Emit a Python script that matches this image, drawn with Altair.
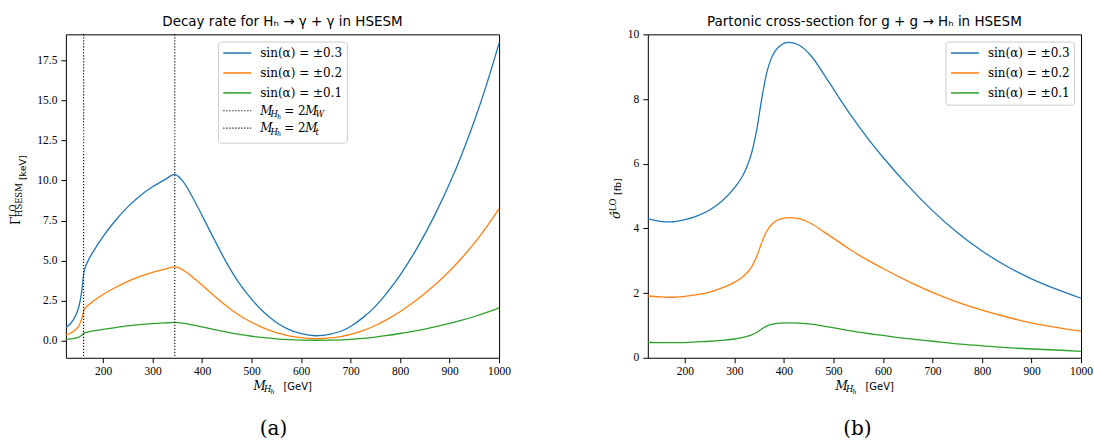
import altair as alt
import pandas as pd

SERIF = "DejaVu Serif"
TICKF = "Liberation Serif"
SANS = "DejaVu Sans"
COLORS = ["#1f77b4", "#ff7f0e", "#2ca02c"]
LABELS = ["sin(α) = ±0.3", "sin(α) = ±0.2", "sin(α) = ±0.1"]

# ---------------- panel (a): decay rate, keV ----------------
m_a = [125, 135, 145, 150, 155, 158, 161, 165, 170, 180, 200, 225, 250, 275, 300, 325, 345, 352, 360, 370,
       380, 390, 400, 425, 450, 475, 500, 525, 550, 575, 600, 630, 660, 680, 700, 725, 750, 775, 800, 825,
       850, 875, 900, 925, 950, 975, 1000]
gam_03 = [0.83, 1.1, 1.6, 2.0, 2.7, 3.3, 4.2, 4.65, 5.0, 5.55, 6.5, 7.5, 8.35, 9.05, 9.6, 10.05, 10.37, 10.25, 10.0, 9.55,
          9.0, 8.42, 7.82, 6.3, 4.85, 3.6, 2.6, 1.78, 1.15, 0.72, 0.45, 0.32, 0.42, 0.6, 0.9, 1.45, 2.15, 3.05, 4.1, 5.3,
          6.65, 8.15, 9.8, 11.65, 13.7, 16.0, 18.55]
gam_02 = [0.37, 0.49, 0.71, 0.89, 1.2, 1.47, 1.87, 2.07, 2.22, 2.47, 2.89, 3.33, 3.71, 4.02, 4.27, 4.47, 4.61, 4.56, 4.44, 4.24,
          4.0, 3.74, 3.48, 2.8, 2.16, 1.6, 1.16, 0.79, 0.51, 0.32, 0.2, 0.14, 0.19, 0.27, 0.4, 0.64, 0.96, 1.36, 1.82, 2.36,
          2.96, 3.62, 4.36, 5.18, 6.09, 7.11, 8.24]
gam_01 = [0.09, 0.12, 0.18, 0.22, 0.3, 0.37, 0.47, 0.52, 0.56, 0.62, 0.72, 0.83, 0.93, 1.01, 1.07, 1.12, 1.15, 1.14, 1.11, 1.06,
          1.0, 0.94, 0.87, 0.7, 0.54, 0.4, 0.29, 0.2, 0.13, 0.08, 0.05, 0.04, 0.05, 0.07, 0.1, 0.16, 0.24, 0.34, 0.46, 0.59,
          0.74, 0.91, 1.09, 1.29, 1.52, 1.78, 2.06]
thresholds = [160.8, 345.0]
threshold_labels = ["2MW", "2Mt"]

# ---------------- panel (b): cross-section, fb ----------------
m_b = [125, 150, 170, 200, 225, 250, 275, 300, 315, 325, 335, 345, 355, 365, 375, 390, 410, 430, 455, 480,
       510, 535, 570, 600, 650, 700, 750, 800, 850, 900, 950, 1000]
sig_03 = [4.30, 4.22, 4.20, 4.27, 4.39, 4.57, 4.85, 5.25, 5.58, 5.9, 6.35, 7.05, 8.0, 8.8, 9.28, 9.62, 9.75, 9.67, 9.33, 8.78,
          8.07, 7.5, 6.77, 6.2, 5.33, 4.55, 3.87, 3.3, 2.83, 2.44, 2.12, 1.84]
sig_02 = [1.91, 1.88, 1.87, 1.9, 1.95, 2.03, 2.16, 2.33, 2.48, 2.62, 2.82, 3.13, 3.56, 3.91, 4.12, 4.28, 4.33, 4.3, 4.15, 3.9,
          3.59, 3.33, 3.01, 2.76, 2.37, 2.02, 1.72, 1.47, 1.26, 1.08, 0.94, 0.82]
sig_01 = [0.48, 0.47, 0.47, 0.47, 0.49, 0.51, 0.54, 0.58, 0.62, 0.66, 0.71, 0.78, 0.89, 0.98, 1.03, 1.07, 1.08, 1.07, 1.04, 0.98,
          0.9, 0.83, 0.75, 0.69, 0.59, 0.51, 0.43, 0.37, 0.31, 0.27, 0.24, 0.2]

x_ticks = [200, 300, 400, 500, 600, 700, 800, 900, 1000]
ya_ticks = [0, 2.5, 5, 7.5, 10, 12.5, 15, 17.5]
yb_ticks = [0, 2, 4, 6, 8, 10]

W, H = 434, 324
ONE = [{"k": 1}]


def txt(s, x, y, size=12, font=SERIF, style="normal", angle=0, align="left", baseline="alphabetic"):
    return alt.Chart(alt.Data(values=ONE)).mark_text(
        text=s, font=font, fontSize=size, fontStyle=style, angle=angle,
        align=align, baseline=baseline, color="black"
    ).encode(x=alt.value(x), y=alt.value(y))


def hrule(x1, x2, y, color, dash=None, width=1.5):
    kw = dict(color=color, strokeWidth=width)
    if dash:
        kw["strokeDash"] = dash
    return alt.Chart(alt.Data(values=ONE)).mark_rule(**kw).encode(
        x=alt.value(x1), x2=alt.value(x2), y=alt.value(y))


def box(x1, x2, y1, y2):
    return alt.Chart(alt.Data(values=ONE)).mark_rect(
        fill="white", fillOpacity=0.85, stroke="#cccccc", strokeWidth=1, cornerRadius=3
    ).encode(x=alt.value(x1), x2=alt.value(x2), y=alt.value(y1), y2=alt.value(y2))


def axis_common(values, fmt, pad):
    return alt.Axis(values=values, format=fmt, title=None, grid=False, domain=False,
                    tickColor="black", tickSize=5, tickWidth=1,
                    labelFont=TICKF, labelFontSize=11.5, labelColor="black",
                    labelPadding=pad, labelFlush=False, labelOverlap=False)


def curves(m, series, ydom, yticks, yfmt):
    rows = []
    for lab, vals in zip(LABELS, series):
        for mm, v in zip(m, vals):
            rows.append({"m": mm, "v": v, "s": lab})
    df = pd.DataFrame(rows)
    return alt.Chart(df).mark_line(strokeWidth=1.3, interpolate="monotone").encode(
        x=alt.X("m:Q", scale=alt.Scale(domain=[125, 1000], nice=False, zero=False),
                axis=axis_common(x_ticks, "d", 3)),
        y=alt.Y("v:Q", scale=alt.Scale(domain=ydom, nice=False, zero=False),
                axis=axis_common(yticks, yfmt, 4)),
        color=alt.Color("s:N", scale=alt.Scale(domain=LABELS, range=COLORS), legend=None),
    )


def mass_label(y):
    return [
        txt("M", 188, y, 12, SERIF, "italic"),
        txt("H", 198.5, y + 2.5, 8.5, SERIF, "italic"),
        txt("h", 205, y + 4, 6.5, SERIF, "italic"),
        txt("[GeV]", 218, y, 10, SANS),
    ]


def legend_items(xl, ys):
    parts = []
    for i in range(3):
        parts.append(hrule(xl, xl + 28, ys[i], COLORS[i]))
        parts.append(txt(LABELS[i], xl + 37, ys[i] + 4, 12, SERIF))
    return parts


def m_equals(x0, yb, sub_last):
    return [
        txt("M", x0, yb, 12, SERIF, "italic"),
        txt("H", x0 + 10.3, yb + 2.5, 8.5, SERIF, "italic"),
        txt("h", x0 + 16.8, yb + 4, 6.5, SERIF, "italic"),
        txt("= 2", x0 + 24, yb, 12, SERIF),
        txt("M", x0 + 45, yb, 12, SERIF, "italic"),
        txt(sub_last, x0 + 55.5, yb + 2.5, 8.5, SERIF, "italic"),
    ]


# canvas-sized transparent frame so the page is exactly 1094 x 441
canvas = alt.Chart(alt.Data(values=ONE)).mark_rect(fill="white", opacity=0).encode(
    x=alt.value(-65), x2=alt.value(1029), y=alt.value(-33), y2=alt.value(408))

thr_df = pd.DataFrame({"m": thresholds, "lab": threshold_labels})
thr = alt.Chart(thr_df).mark_rule(color="black", strokeWidth=1.1, strokeDash=[1.2, 1.8]).encode(x="m:Q")

leg_a_y = [18.7, 38.7, 58.7, 76.5, 94]
left_layers = [canvas,
               curves(m_a, [gam_03, gam_02, gam_01], [-1.05, 19.1], ya_ticks, ".1f"),
               thr,
               box(153, 282, 7.7, 109)]
left_layers += legend_items(157.7, leg_a_y)
left_layers += [hrule(157.7, 185.7, leg_a_y[3], "black", [1.2, 1.8], 1.1),
                hrule(157.7, 185.7, leg_a_y[4], "black", [1.2, 1.8], 1.1)]
left_layers += m_equals(194.7, leg_a_y[3] + 4, "W")
left_layers += m_equals(194.7, leg_a_y[4] + 4, "t")
left_layers += [
    txt("Decay rate for Hₕ → γ + γ in HSESM", 217, -8, 13.5, SANS, align="center"),
    txt("Γ", -46, 191, 12.5, SERIF, angle=270),
    txt("LO", -50, 183, 8.5, SERIF, angle=270),
    txt("HSESM", -43.5, 183, 8.5, SERIF, angle=270),
    txt("[keV]", -40, 146, 9.5, SANS, angle=270),
    txt("(a)", 208, 401, 20, SERIF, align="center"),
]
left_layers += mass_label(356)

leg_b_y = [18.7, 38.7, 58.7]
right_layers = [curves(m_b, [sig_03, sig_02, sig_01], [0, 10], yb_ticks, "d"),
                box(298.7, 427.4, 7.7, 71)]
right_layers += legend_items(303.7, leg_b_y)
right_layers += [
    txt("Partonic cross-section for g + g → Hₕ in HSESM", 217, -8, 13.5, SANS, align="center"),
    txt("σ̂", -28, 185, 12.5, SERIF, "italic", angle=270),
    txt("LO", -32, 177, 8.5, SERIF, angle=270),
    txt("[fb]", -27, 161, 9.5, SANS, angle=270),
    txt("(b)", 210, 401, 20, SERIF, align="center"),
]
right_layers += mass_label(356)

left = alt.layer(*left_layers).properties(width=W, height=H)
right = alt.layer(*right_layers).properties(width=W, height=H)

chart = alt.hconcat(left, right, spacing=149, bounds="flush").properties(
    padding=0
).configure_view(stroke="black", strokeWidth=1)

chart.save("out.html", embed_options={"renderer": "svg", "actions": False})
